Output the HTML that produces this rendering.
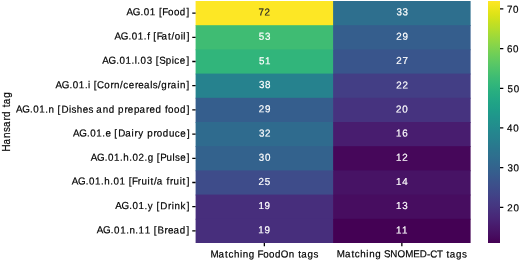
<!DOCTYPE html><html><head><meta charset="utf-8"><style>html,body{margin:0;padding:0;background:#fff;width:520px;height:261px;overflow:hidden}svg{display:block}text{font-family:"Liberation Sans",sans-serif;white-space:pre}</style></head><body>
<svg width="520" height="261" viewBox="0 0 520 261">
<defs><linearGradient id="cb" x1="0" y1="1" x2="0" y2="0">
<stop offset="0.0000" stop-color="#440154"/>
<stop offset="0.0156" stop-color="#46075a"/>
<stop offset="0.0312" stop-color="#470d60"/>
<stop offset="0.0469" stop-color="#471365"/>
<stop offset="0.0625" stop-color="#48186a"/>
<stop offset="0.0781" stop-color="#481d6f"/>
<stop offset="0.0938" stop-color="#482374"/>
<stop offset="0.1094" stop-color="#482878"/>
<stop offset="0.1250" stop-color="#472d7b"/>
<stop offset="0.1406" stop-color="#46327e"/>
<stop offset="0.1562" stop-color="#453781"/>
<stop offset="0.1719" stop-color="#443b84"/>
<stop offset="0.1875" stop-color="#424086"/>
<stop offset="0.2031" stop-color="#404588"/>
<stop offset="0.2188" stop-color="#3e4989"/>
<stop offset="0.2344" stop-color="#3d4e8a"/>
<stop offset="0.2500" stop-color="#3b528b"/>
<stop offset="0.2656" stop-color="#39568c"/>
<stop offset="0.2812" stop-color="#375b8d"/>
<stop offset="0.2969" stop-color="#355f8d"/>
<stop offset="0.3125" stop-color="#33638d"/>
<stop offset="0.3281" stop-color="#31678e"/>
<stop offset="0.3438" stop-color="#2f6b8e"/>
<stop offset="0.3594" stop-color="#2e6f8e"/>
<stop offset="0.3750" stop-color="#2c728e"/>
<stop offset="0.3906" stop-color="#2a768e"/>
<stop offset="0.4062" stop-color="#297a8e"/>
<stop offset="0.4219" stop-color="#277e8e"/>
<stop offset="0.4375" stop-color="#26828e"/>
<stop offset="0.4531" stop-color="#25858e"/>
<stop offset="0.4688" stop-color="#23898e"/>
<stop offset="0.4844" stop-color="#228d8d"/>
<stop offset="0.5000" stop-color="#21918c"/>
<stop offset="0.5156" stop-color="#1f948c"/>
<stop offset="0.5312" stop-color="#1f988b"/>
<stop offset="0.5469" stop-color="#1e9c89"/>
<stop offset="0.5625" stop-color="#1fa088"/>
<stop offset="0.5781" stop-color="#20a386"/>
<stop offset="0.5938" stop-color="#22a785"/>
<stop offset="0.6094" stop-color="#25ab82"/>
<stop offset="0.6250" stop-color="#28ae80"/>
<stop offset="0.6406" stop-color="#2db27d"/>
<stop offset="0.6562" stop-color="#32b67a"/>
<stop offset="0.6719" stop-color="#38b977"/>
<stop offset="0.6875" stop-color="#3fbc73"/>
<stop offset="0.7031" stop-color="#46c06f"/>
<stop offset="0.7188" stop-color="#4ec36b"/>
<stop offset="0.7344" stop-color="#56c667"/>
<stop offset="0.7500" stop-color="#5ec962"/>
<stop offset="0.7656" stop-color="#67cc5c"/>
<stop offset="0.7812" stop-color="#70cf57"/>
<stop offset="0.7969" stop-color="#7ad151"/>
<stop offset="0.8125" stop-color="#84d44b"/>
<stop offset="0.8281" stop-color="#8ed645"/>
<stop offset="0.8438" stop-color="#98d83e"/>
<stop offset="0.8594" stop-color="#a2da37"/>
<stop offset="0.8750" stop-color="#addc30"/>
<stop offset="0.8906" stop-color="#b8de29"/>
<stop offset="0.9062" stop-color="#c2df23"/>
<stop offset="0.9219" stop-color="#cde11d"/>
<stop offset="0.9375" stop-color="#d8e219"/>
<stop offset="0.9531" stop-color="#e2e418"/>
<stop offset="0.9688" stop-color="#ece51b"/>
<stop offset="0.9844" stop-color="#f6e620"/>
<stop offset="1.0000" stop-color="#fde725"/>
</linearGradient></defs>
<rect x="195.6" y="1.00" width="138.30" height="25.00" fill="#fde725"/>
<rect x="333.10" y="1.00" width="137.50" height="25.00" fill="#2e6f8e"/>
<rect x="195.6" y="25.20" width="138.30" height="25.00" fill="#3fbc73"/>
<rect x="333.10" y="25.20" width="137.50" height="25.00" fill="#355e8d"/>
<rect x="195.6" y="49.40" width="138.30" height="25.00" fill="#31b57b"/>
<rect x="333.10" y="49.40" width="137.50" height="25.00" fill="#39558c"/>
<rect x="195.6" y="73.60" width="138.30" height="25.00" fill="#26828e"/>
<rect x="333.10" y="73.60" width="137.50" height="25.00" fill="#433e85"/>
<rect x="195.6" y="97.80" width="138.30" height="25.00" fill="#355e8d"/>
<rect x="333.10" y="97.80" width="137.50" height="25.00" fill="#46337f"/>
<rect x="195.6" y="122.00" width="138.30" height="25.00" fill="#2f6b8e"/>
<rect x="333.10" y="122.00" width="137.50" height="25.00" fill="#481d6f"/>
<rect x="195.6" y="146.20" width="138.30" height="25.00" fill="#33628d"/>
<rect x="333.10" y="146.20" width="137.50" height="25.00" fill="#46075a"/>
<rect x="195.6" y="170.40" width="138.30" height="25.00" fill="#3e4c8a"/>
<rect x="333.10" y="170.40" width="137.50" height="25.00" fill="#471365"/>
<rect x="195.6" y="194.60" width="138.30" height="25.00" fill="#472e7c"/>
<rect x="333.10" y="194.60" width="137.50" height="25.00" fill="#470d60"/>
<rect x="195.6" y="218.80" width="138.30" height="24.20" fill="#472e7c"/>
<rect x="333.10" y="218.80" width="137.50" height="24.20" fill="#440154"/>
<rect x="488.0" y="1.0" width="12.0" height="242.0" fill="url(#cb)"/>
<path d="M192.26 13.10H195.6M192.26 37.30H195.6M192.26 61.50H195.6M192.26 85.70H195.6M192.26 109.90H195.6M192.26 134.10H195.6M192.26 158.30H195.6M192.26 182.50H195.6M192.26 206.70H195.6M192.26 230.90H195.6M264.35 243.0V246.34M401.85 243.0V246.34M500.0 207.30H503.34M500.0 167.62H503.34M500.0 127.95H503.34M500.0 88.28H503.34M500.0 48.61H503.34M500.0 8.93H503.34" stroke="#000" stroke-width="1.3" fill="none"/>
<g style="will-change:transform">
<text transform="translate(126.47,15.28) rotate(0.05) scale(0.9700,1)" x="0.03 6.55 14.51 17.86 24.14 30.34 33.48 36.97 42.80 48.89 55.02 61.97" y="0" font-size="10.10" fill="#000" stroke="#000" stroke-width="0.206">AG.01 [Food]</text>
<text transform="translate(114.36,39.51) rotate(0.05) scale(0.9700,1)" x="0.03 6.55 14.51 17.86 24.14 30.33 33.80 37.00 40.15 43.63 48.55 55.30 58.95 62.27 68.38 71.14 74.56" y="0" font-size="10.10" fill="#000" stroke="#000" stroke-width="0.206">AG.01.f [Fat/oil]</text>
<text transform="translate(102.16,63.78) rotate(0.05) scale(0.9700,1)" x="0.03 6.55 14.51 17.86 24.14 30.33 33.58 36.26 39.60 45.94 52.09 55.23 58.79 65.68 71.85 74.44 80.09 86.85" y="0" font-size="10.10" fill="#000" stroke="#000" stroke-width="0.206">AG.01.l.03 [Spice]</text>
<text transform="translate(55.47,88.13) rotate(0.05) scale(0.9700,1)" x="0.03 6.55 14.51 17.86 24.14 30.33 33.59 36.26 39.41 42.90 50.31 56.73 60.45 66.66 69.83 75.48 81.89 85.46 91.19 97.67 100.31 105.63 108.99 115.59 118.99 125.48 128.34 135.19" y="0" font-size="10.10" fill="#000" stroke="#000" stroke-width="0.206">AG.01.i [Corn/cereals/grain]</text>
<text transform="translate(15.93,112.60) rotate(0.05) scale(0.9700,1)" x="0.03 6.55 14.51 17.86 24.14 30.33 33.69 39.81 42.95 46.88 54.60 57.23 62.63 68.85 74.84 80.06 82.92 89.51 95.73 101.94 105.34 111.81 115.38 121.64 127.42 134.21 137.78 143.91 150.12 153.58 156.85 162.93 169.07 176.01" y="0" font-size="10.10" fill="#000" stroke="#000" stroke-width="0.206">AG.01.n [Dishes and prepared food]</text>
<text transform="translate(72.88,136.54) rotate(0.05) scale(0.9700,1)" x="0.03 6.55 14.51 17.86 24.14 30.33 33.59 39.62 42.77 46.69 54.02 60.51 63.57 67.51 73.16 76.56 83.03 86.57 92.70 99.05 105.13 110.78 117.54" y="0" font-size="10.10" fill="#000" stroke="#000" stroke-width="0.206">AG.01.e [Dairy produce]</text>
<text transform="translate(90.64,160.78) rotate(0.05) scale(0.9700,1)" x="0.03 6.55 14.51 17.86 24.14 30.33 33.67 39.80 43.14 49.34 55.62 58.90 65.10 68.25 71.77 78.12 84.36 87.00 92.32 99.08" y="0" font-size="10.10" fill="#000" stroke="#000" stroke-width="0.206">AG.01.h.02.g [Pulse]</text>
<text transform="translate(71.69,184.49) rotate(0.05) scale(0.9700,1)" x="0.03 6.55 14.51 17.86 24.14 30.33 33.67 39.80 43.14 49.42 55.63 58.77 62.26 68.06 71.90 78.15 81.17 84.82 87.77 94.18 97.64 101.23 105.07 111.32 114.34 118.64" y="0" font-size="10.10" fill="#000" stroke="#000" stroke-width="0.206">AG.01.h.01 [Fruit/a fruit]</text>
<text transform="translate(115.14,209.10) rotate(0.05) scale(0.9700,1)" x="0.03 6.55 14.51 17.86 24.14 30.33 33.74 39.39 42.53 46.46 54.48 58.27 61.13 67.52 73.75" y="0" font-size="10.10" fill="#000" stroke="#000" stroke-width="0.206">AG.01.y [Drink]</text>
<text transform="translate(96.75,233.36) rotate(0.05) scale(0.9700,1)" x="0.03 6.55 14.51 17.86 24.14 30.33 33.69 39.80 43.09 49.42 55.63 58.77 62.52 69.88 73.45 79.18 85.69 92.63" y="0" font-size="10.10" fill="#000" stroke="#000" stroke-width="0.206">AG.01.n.11 [Bread]</text>
<text transform="translate(210.30,257.45) rotate(0.05) scale(0.9700,1)" x="0.09 8.46 15.20 18.67 24.40 30.62 33.48 39.71 45.92 48.66 54.50 60.59 66.72 72.74 80.95 87.07 90.57 93.82 100.33 106.50" y="0" font-size="10.10" fill="#000" stroke="#000" stroke-width="0.206">Matching FoodOn tags</text>
<text transform="translate(336.68,257.30) rotate(0.05) scale(0.9700,1)" x="0.09 8.46 15.20 18.67 24.40 30.62 33.48 39.71 45.92 48.74 55.29 62.65 70.58 78.82 85.57 93.13 96.38 103.51 109.81 113.32 116.57 123.08 129.24" y="0" font-size="10.10" fill="#000" stroke="#000" stroke-width="0.206">Matching SNOMED-CT tags</text>
<text transform="translate(506.95,211.19) rotate(0.05) scale(0.9700,1)" x="0.22 6.68" y="0" font-size="10.10" fill="#000" stroke="#000" stroke-width="0.206">20</text>
<text transform="translate(507.04,171.21) rotate(0.05) scale(0.9700,1)" x="0.37 6.68" y="0" font-size="10.10" fill="#000" stroke="#000" stroke-width="0.206">30</text>
<text transform="translate(506.78,131.52) rotate(0.05) scale(0.9700,1)" x="0.35 6.68" y="0" font-size="10.10" fill="#000" stroke="#000" stroke-width="0.206">40</text>
<text transform="translate(507.15,92.23) rotate(0.05) scale(0.9700,1)" x="0.32 6.68" y="0" font-size="10.10" fill="#000" stroke="#000" stroke-width="0.206">50</text>
<text transform="translate(506.57,52.32) rotate(0.05) scale(0.9700,1)" x="0.36 6.68" y="0" font-size="10.10" fill="#000" stroke="#000" stroke-width="0.206">60</text>
<text transform="translate(506.58,12.77) rotate(0.05) scale(0.9700,1)" x="0.33 6.68" y="0" font-size="10.10" fill="#000" stroke="#000" stroke-width="0.206">70</text>
<text transform="translate(258.10,15.61) rotate(0.05) scale(0.9700,1)" x="0.33 6.55" y="0" font-size="10.10" fill="#262626" stroke="#262626" stroke-width="0.206">72</text>
<text transform="translate(396.09,15.26) rotate(0.05) scale(0.9700,1)" x="0.37 6.70" y="0" font-size="10.10" fill="#ffffff" stroke="#ffffff" stroke-width="0.206">33</text>
<text transform="translate(258.55,39.80) rotate(0.05) scale(0.9700,1)" x="0.32 6.70" y="0" font-size="10.10" fill="#ffffff" stroke="#ffffff" stroke-width="0.206">53</text>
<text transform="translate(395.99,39.83) rotate(0.05) scale(0.9700,1)" x="0.22 6.65" y="0" font-size="10.10" fill="#ffffff" stroke="#ffffff" stroke-width="0.206">29</text>
<text transform="translate(258.64,64.36) rotate(0.05) scale(0.9700,1)" x="0.32 6.64" y="0" font-size="10.10" fill="#ffffff" stroke="#ffffff" stroke-width="0.206">51</text>
<text transform="translate(396.14,63.99) rotate(0.05) scale(0.9700,1)" x="0.22 6.66" y="0" font-size="10.10" fill="#ffffff" stroke="#ffffff" stroke-width="0.206">27</text>
<text transform="translate(258.59,87.96) rotate(0.05) scale(0.9700,1)" x="0.37 6.68" y="0" font-size="10.10" fill="#ffffff" stroke="#ffffff" stroke-width="0.206">38</text>
<text transform="translate(396.05,88.42) rotate(0.05) scale(0.9700,1)" x="0.22 6.55" y="0" font-size="10.10" fill="#ffffff" stroke="#ffffff" stroke-width="0.206">22</text>
<text transform="translate(258.43,112.20) rotate(0.05) scale(0.9700,1)" x="0.22 6.65" y="0" font-size="10.10" fill="#ffffff" stroke="#ffffff" stroke-width="0.206">29</text>
<text transform="translate(395.87,112.43) rotate(0.05) scale(0.9700,1)" x="0.22 6.68" y="0" font-size="10.10" fill="#ffffff" stroke="#ffffff" stroke-width="0.206">20</text>
<text transform="translate(258.71,136.59) rotate(0.05) scale(0.9700,1)" x="0.37 6.55" y="0" font-size="10.10" fill="#ffffff" stroke="#ffffff" stroke-width="0.206">32</text>
<text transform="translate(395.71,136.56) rotate(0.05) scale(0.9700,1)" x="0.31 6.69" y="0" font-size="10.10" fill="#ffffff" stroke="#ffffff" stroke-width="0.206">16</text>
<text transform="translate(258.52,160.69) rotate(0.05) scale(0.9700,1)" x="0.37 6.68" y="0" font-size="10.10" fill="#ffffff" stroke="#ffffff" stroke-width="0.206">30</text>
<text transform="translate(395.81,160.81) rotate(0.05) scale(0.9700,1)" x="0.31 6.55" y="0" font-size="10.10" fill="#ffffff" stroke="#ffffff" stroke-width="0.206">12</text>
<text transform="translate(258.20,185.07) rotate(0.05) scale(0.9700,1)" x="0.22 6.64" y="0" font-size="10.10" fill="#ffffff" stroke="#ffffff" stroke-width="0.206">25</text>
<text transform="translate(395.76,184.97) rotate(0.05) scale(0.9700,1)" x="0.31 6.68" y="0" font-size="10.10" fill="#ffffff" stroke="#ffffff" stroke-width="0.206">14</text>
<text transform="translate(258.13,208.91) rotate(0.05) scale(0.9700,1)" x="0.31 6.65" y="0" font-size="10.10" fill="#ffffff" stroke="#ffffff" stroke-width="0.206">19</text>
<text transform="translate(395.67,208.92) rotate(0.05) scale(0.9700,1)" x="0.31 6.70" y="0" font-size="10.10" fill="#ffffff" stroke="#ffffff" stroke-width="0.206">13</text>
<text transform="translate(258.08,233.18) rotate(0.05) scale(0.9700,1)" x="0.31 6.65" y="0" font-size="10.10" fill="#ffffff" stroke="#ffffff" stroke-width="0.206">19</text>
<text transform="translate(395.65,233.51) rotate(0.05) scale(0.9700,1)" x="0.31 6.64" y="0" font-size="10.10" fill="#ffffff" stroke="#ffffff" stroke-width="0.206">11</text>
<text transform="translate(9.63,151.60) rotate(-90) scale(0.9700,1)" x="0.09 7.44 14.11 20.26 25.24 32.11 35.79 42.07 45.62 48.91 55.49" y="0" font-size="10.22" fill="#000" stroke="#000" stroke-width="0.206">Hansard tag</text>
</g>
</svg></body></html>
